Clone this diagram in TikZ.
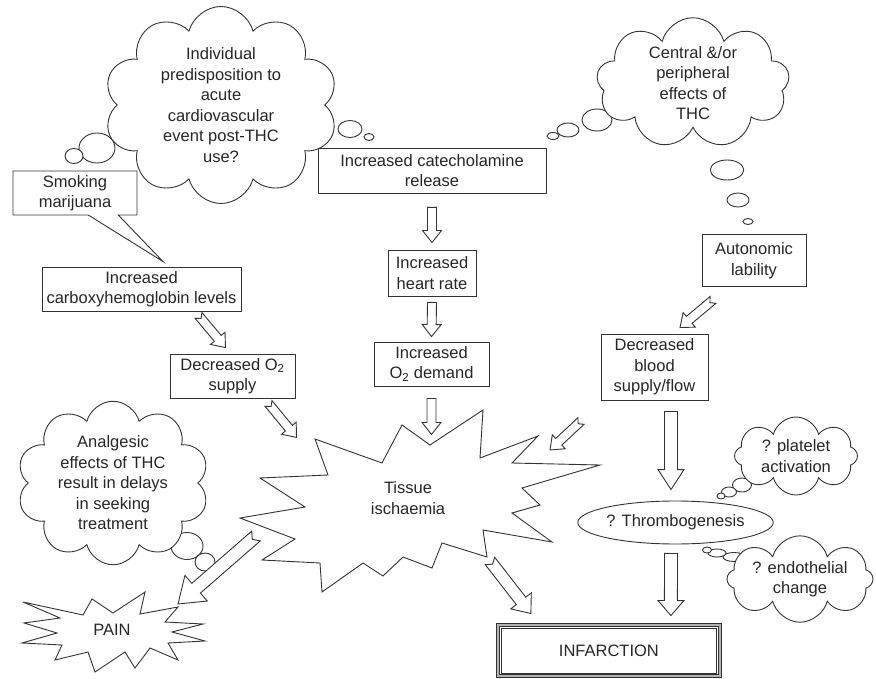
\documentclass[tikz,border=0pt]{standalone}
\usepackage{fontspec}
\setmainfont{Liberation Sans}
\usetikzlibrary{positioning, calc, shapes.geometric, shapes.symbols, shapes.callouts}

\begin{document}
\begin{tikzpicture}[x=1pt, y=-1pt,
        every node/.style={font=\fontsize{16.5}{20.5}\selectfont, text=black!85},
        box/.style={% plain text boxes
            rectangle,
            draw=black!80,
            line width=0.9pt,
            fill=white,
            inner sep=0pt,
            align=center,
            },
        think/.style={% thought clouds
            cloud,
            draw=black!80,
            line width=0.9pt,
            fill=white,
            cloud ignores aspect,
            cloud puff arc=150,
            inner sep=0pt,
            align=center,
            },
        bub/.style={% little bubbles trailing the clouds
            draw=black!80,
            line width=0.9pt,
            fill=white,
            },
        spiky/.style={% the two starbursts
            draw=black!80,
            line width=0.9pt,
            fill=white,
            },
        hollow/.style n args={4}{% block arrow: shaft, head, head length, notch
            draw=black!80,
            line width=0.9pt,
            fill=white,
            to path={
              let \p1=(\tikztostart), \p2=(\tikztotarget),
                  \n1={atan2(\y2-\y1,\x2-\x1)},
                  \n2={veclen(\x2-\x1,\y2-\y1)} in
              {[shift={(\p1)}, rotate=\n1]
               (#4,0pt) -- (0pt,#1/2) -- (\n2-#3,#1/2) -- (\n2-#3,#2/2)
               -- (\n2,0pt) -- (\n2-#3,-#2/2) -- (\n2-#3,-#1/2)
               -- (0pt,-#1/2) -- cycle}},
            },
        ]
        \useasboundingbox (0,0) rectangle (876,679);
        % bubbles behind the clouds
        \foreach \x/\y/\a/\b in {97/148/18/15, 74/156/9/7.5, 350/129/12/8.5, 369/137/5/3.5,
            597/120/15/11, 568/130/11/7, 553/136/6/3.5,
            727/170/16.7/10, 738/200/11/7, 748/221.5/5/3,
            187/546/16/13.5, 205/562/10/9, 216/572/5.5/4.5,
            742/485/9.5/7, 729/492/7.5/5, 721/496/4/3,
            734/557/11/4.5, 717/553/9/4, 707/550/4.5/3}
        \draw[bub] (\x,\y) ellipse [x radius=\a pt, y radius=\b pt];
        % clouds
        \node[think, cloud puffs=10, minimum width=234pt, minimum height=197pt] (pred) at (221,105)
            {Individual\\predisposition to\\acute\\cardiovascular\\event post-THC\\use?};
        \node[think, cloud puffs=9, minimum width=193pt, minimum height=127pt] (thc) at (693,83)
            {Central \&/or\\peripheral\\effects of\\THC};
        \node[think, cloud puffs=10, minimum width=192pt, minimum height=147pt] (analg) at (113,483)
            {Analgesic\\effects of THC\\result in delays\\in seeking\\treatment};
        \node[think, cloud puffs=8, minimum width=123pt, minimum height=78pt] (plat) at (796,456)
            {? platelet\\activation};
        \node[think, cloud puffs=8, minimum width=146pt, minimum height=62pt] (endo) at (800,579)
            {? endothelial\\change};
        % starbursts
        \draw[spiky] (315,439) -- (382,463) -- (402,425) -- (430,445) -- (483,410) -- (480,458)
            -- (538,436) -- (512,463) -- (600,465) -- (522,488) -- (540,505) -- (512,513)
            -- (552,542) -- (483,530) -- (487,557) -- (442,543) -- (432,568) -- (403,557)
            -- (383,576) -- (363,563) -- (322,592) -- (320,563) -- (262,560) -- (295,539)
            -- (240,518) -- (305,507) -- (260,478) -- (328,475) -- cycle;
        \node[align=center] (isch) at (408,498) {Tissue\\ischaemia};
        \draw[spiky] (23,602) -- (83,615) -- (92,599) -- (113,613) -- (145,592) -- (140,614)
            -- (178,607) -- (165,622) -- (203,624) -- (172,632) -- (205,641) -- (168,643)
            -- (178,660) -- (150,648) -- (135,668) -- (125,652) -- (95,672) -- (88,652)
            -- (55,660) -- (62,645) -- (22,643) -- (57,633) -- (24,623) -- (60,618) -- cycle;
        \node (pain) at (112,630) {PAIN};
        % boxes
        \node[box, minimum width=228pt, minimum height=45pt] (cat) at (432,170.5)
            {Increased catecholamine\\release};
        \node[box, minimum width=88pt, minimum height=46pt] (hr) at (432,273) {Increased\\heart rate};
        \node[box, minimum width=115pt, minimum height=44pt] (dem) at (431.5,364)
            {Increased\\O\textsubscript{2} demand};
        \node[box, minimum width=199pt, minimum height=44pt] (carb) at (141.5,289)
            {Increased\\carboxyhemoglobin levels};
        \node[box, minimum width=125pt, minimum height=44pt] (dsup) at (232.5,376)
            {Decreased O\textsubscript{2}\\supply};
        \node[box, minimum width=104pt, minimum height=52pt] (auto) at (754,260.5) {Autonomic\\lability};
        \node[box, minimum width=107pt, minimum height=66pt] (blood) at (654.5,367)
            {Decreased\\blood\\supply/flow};
        \node[box, ellipse, minimum width=193pt, minimum height=43pt] (throm) at (675.5,522.5)
            {? Thrombogenesis};
        \node[box, double=gray!60, double distance=2pt, minimum width=221.7pt, minimum height=51pt]
            (inf) at (608.9,650.5) {INFARCTION};
        \draw[draw=black!80, line width=0.9pt] ($(inf.south west)+(3.5,-3.5)$) rectangle ($(inf.north east)+(-3.5,3.5)$);
        \node[box, rectangle callout, minimum width=124pt, minimum height=44pt,
            callout absolute pointer={($(carb.north)+(21.5,-5)$)}, callout pointer width=30pt]
            (smoke) at (75,193) {Smoking\\marijuana};
        % block arrows
        \draw[hollow={9pt}{19pt}{12pt}{0pt}] ($(cat.south)+(0,14)$) to ($(hr.north)+(0,-7)$);
        \draw[hollow={9pt}{19pt}{12pt}{0pt}] ($(hr.south)+(0,6)$) to ($(dem.north)+(0,-5)$);
        \draw[hollow={9pt}{19pt}{12pt}{0pt}] ($(dem.south)+(0,12)$) to ($(dem.south)+(0,48)$);
        \draw[hollow={9pt}{19pt}{12pt}{4pt}] ($(carb.south)+(57,4)$) to ($(dsup.north)+(-7,-6)$);
        \draw[hollow={9pt}{19pt}{12pt}{4pt}] ($(dsup.south)+(36,5)$) to ($(dsup.south)+(64,39)$);
        \draw[hollow={13pt}{34pt}{24pt}{5pt}] ($(isch)+(-152,38)$) to ($(pain)+(66,-26)$);
        \draw[hollow={9pt}{19pt}{12pt}{4pt}] ($(auto.south)+(-41,13)$) to ($(blood.north)+(25.5,-6)$);
        \draw[hollow={9pt}{19pt}{12pt}{4pt}] ($(isch)+(173,-77)$) to ($(isch)+(142,-48)$);
        \draw[hollow={13pt}{26pt}{20pt}{0pt}] ($(blood.south)+(16.5,11)$) to ($(throm.north)+(-4.5,-11)$);
        \draw[hollow={13pt}{26pt}{15pt}{0pt}] ($(throm.south)+(-4.5,9)$) to ($(inf.north)+(62,-9)$);
        \draw[hollow={12pt}{26pt}{16pt}{4pt}] ($(isch)+(82,63)$) to ($(inf.north)+(-78,-11)$);
\end{tikzpicture}
\end{document}
